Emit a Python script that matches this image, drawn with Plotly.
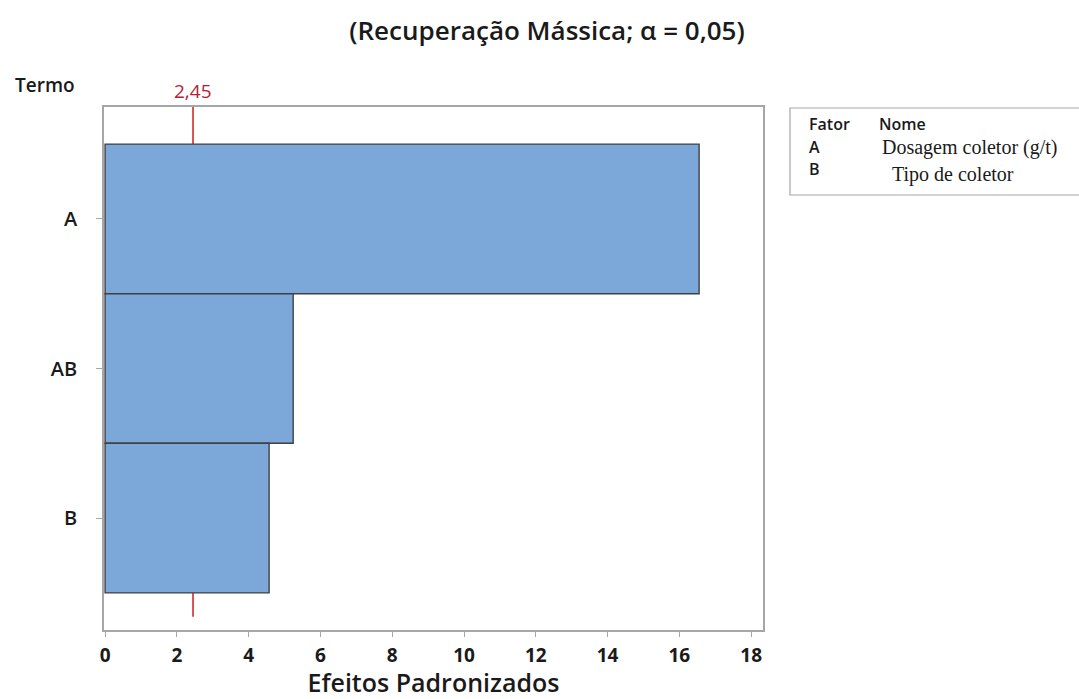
import plotly.graph_objects as go

# Pareto of standardized effects
terms = ["A", "AB", "B"]
effects = [16.55, 5.24, 4.57]
critical_value = 2.45
x_ticks = [0, 2, 4, 6, 8, 10, 12, 14, 16, 18]
factor_codes = ["A", "B"]
factor_names = ["Dosagem coletor (g/t)", "Tipo de coletor"]

order = ["B", "AB", "A"]  # bottom to top
y_pos = [order.index(t) for t in terms]

W, H = 1079, 699
L, R, T, B = 104, 763, 107, 630  # plot-area edges in pixels


def px(x):
    return (x - L) / (R - L)


def py(y):
    return (B - y) / (B - T)


ink = "#1a1a1a"

fig = go.Figure()

fig.add_trace(go.Bar(
    x=effects, y=y_pos, orientation="h", width=1.0,
    marker=dict(color="#7ba7d9", line=dict(color="#404040", width=1.4)),
    showlegend=False,
))

# reference line for the critical t value, kept behind the bars
fig.add_shape(type="line", xref="x", yref="y", layer="below",
              x0=critical_value, x1=critical_value, y0=-0.66, y1=2.748,
              line=dict(color="#d62728", width=1.6))

fig.update_layout(
    width=W, height=H,
    paper_bgcolor="white", plot_bgcolor="white",
    margin=dict(l=L, r=W - R, t=T, b=H - B, autoexpand=False),
    font=dict(family="Open Sans", color=ink),
    title=dict(
        text="(Recuperação Mássica; α = 0,05)",
        x=547 / W, xanchor="center", y=1 - 31 / H, yanchor="middle",
        xref="container", yref="container",
        font=dict(size=26, family="Open Sans", weight=600, color=ink),
    ),
    xaxis=dict(
        range=[-0.03, 18.33], tickvals=x_ticks, ticktext=[str(v) for v in x_ticks],
        showgrid=False, zeroline=False, automargin=False,
        showline=True, linecolor="#a6a6a6", linewidth=1.5, mirror=True,
        ticks="outside", ticklen=5, tickcolor="#a6a6a6",
        tickfont=dict(size=19, weight="bold", color=ink),
        ticklabelstandoff=2,
        title=dict(text="Efeitos Padronizados", standoff=6,
                   font=dict(size=25, weight=600, color=ink)),
    ),
    yaxis=dict(
        range=[-0.748, 2.748], tickvals=list(range(len(order))), ticktext=order,
        showgrid=False, zeroline=False, automargin=False,
        showline=True, linecolor="#a6a6a6", linewidth=1.5, mirror=True,
        ticks="outside", ticklen=6, tickcolor="#a6a6a6",
        tickfont=dict(size=20, weight=600, color=ink),
        ticklabelstandoff=15,
    ),
)

# heading for the term axis
fig.add_annotation(text="Termo", x=px(45), y=py(85), xref="paper", yref="paper",
                   xanchor="center", yanchor="middle", showarrow=False,
                   font=dict(size=19, weight=600, color=ink))

# critical value label
fig.add_annotation(text="2,45", x=critical_value, y=py(91), xref="x", yref="paper",
                   xanchor="center", yanchor="middle", showarrow=False,
                   font=dict(size=19, color="#b22234"))

# factor key box
fig.add_shape(type="rect", xref="paper", yref="paper",
              x0=px(790), x1=px(1090), y0=py(195), y1=py(108),
              line=dict(color="#a6a6a6", width=1.2), fillcolor="white")
fig.add_annotation(text="Fator", x=px(807), y=py(124), xref="paper", yref="paper",
                   xanchor="left", yanchor="middle", showarrow=False,
                   font=dict(size=16, weight=600, color=ink))
fig.add_annotation(text="Nome", x=px(877), y=py(124), xref="paper", yref="paper",
                   xanchor="left", yanchor="middle", showarrow=False,
                   font=dict(size=16, weight=600, color=ink))
name_x = [880, 890]
code_y = [147, 169]
name_y = [147, 174]
for code, name, nx, cy, ny in zip(factor_codes, factor_names, name_x, code_y, name_y):
    fig.add_annotation(text=code, x=px(807), y=py(cy), xref="paper", yref="paper",
                       xanchor="left", yanchor="middle", showarrow=False,
                       font=dict(size=16, weight=600, color=ink))
    fig.add_annotation(text=name, x=px(nx), y=py(ny), xref="paper", yref="paper",
                       xanchor="left", yanchor="middle", showarrow=False,
                       font=dict(size=20, family="Liberation Serif", color=ink))

fig.write_html("out.html")
